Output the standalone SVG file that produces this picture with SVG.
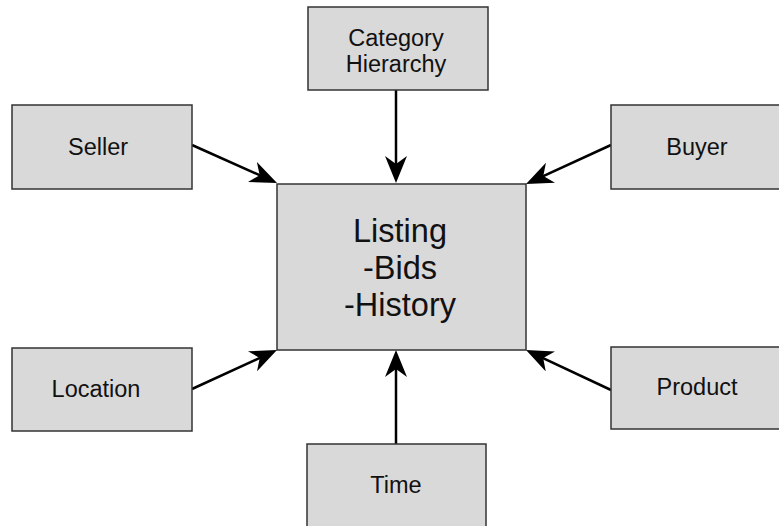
<svg xmlns="http://www.w3.org/2000/svg" width="779" height="526" viewBox="0 0 779 526">
<style>
.box{fill:#d9d9d9;stroke:#333;stroke-width:1.5}
.lbl{font-family:"Liberation Sans",Arial,sans-serif;font-size:23.5px;fill:#111;text-anchor:middle}
.big{font-family:"Liberation Sans",Arial,sans-serif;font-size:32.5px;fill:#111;text-anchor:middle}
.conn line{stroke:#000;stroke-width:2.5;marker-end:url(#ah)}
</style>
<defs>
<marker id="ah" markerUnits="userSpaceOnUse" viewBox="0 0 27 22" refX="17" refY="11" markerWidth="27" markerHeight="22" orient="auto">
<path d="M0,0 L27,11 L0,22 L8,11 Z" fill="#000"/>
</marker>
</defs>
<rect width="779" height="526" fill="#fff"/>
<g class="conn">
<line x1="396" y1="90" x2="396" y2="173"/>
<line x1="192" y1="145" x2="267.9" y2="178.9"/>
<line x1="611" y1="145" x2="535.1" y2="179.8"/>
<line x1="192" y1="389" x2="267.9" y2="354.2"/>
<line x1="611" y1="390" x2="535.05" y2="354.26"/>
<line x1="396" y1="444" x2="396" y2="360"/>
</g>
<g id="listing"><rect class="box" x="277" y="184" width="249" height="166"/>
<text class="big" x="400" y="242">Listing</text><text class="big" x="400" y="279">-Bids</text><text class="big" x="400" y="316">-History</text></g>
<g id="category"><rect class="box" x="308" y="7" width="180" height="83"/>
<text class="lbl" x="396" y="46">Category</text><text class="lbl" x="396" y="72">Hierarchy</text></g>
<g id="seller"><rect class="box" x="12" y="105" width="180" height="84"/><text class="lbl" x="98" y="155">Seller</text></g>
<g id="buyer"><rect class="box" x="611" y="105" width="171" height="84"/><text class="lbl" x="697" y="155">Buyer</text></g>
<g id="location"><rect class="box" x="12" y="348" width="180" height="83"/><text class="lbl" x="96" y="397">Location</text></g>
<g id="product"><rect class="box" x="611" y="347" width="171" height="82"/><text class="lbl" x="697" y="395">Product</text></g>
<g id="time"><rect class="box" x="307" y="444" width="179" height="90"/><text class="lbl" x="396" y="493">Time</text></g>
</svg>
